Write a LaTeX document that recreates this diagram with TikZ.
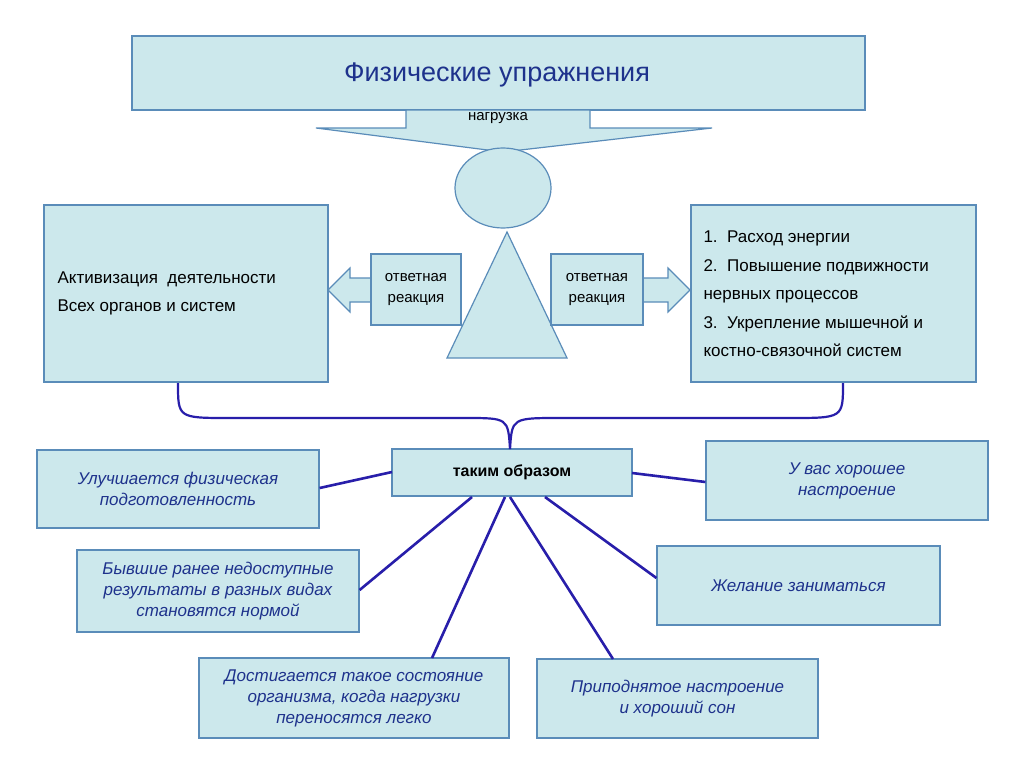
\documentclass[tikz,border=0pt]{standalone}
\usepackage{fontspec}
\setmainfont{Liberation Sans}
\begin{document}
\begin{tikzpicture}[x=1pt,y=-1pt,
  shp/.style={fill=boxfill,draw=boxline,line width=1.2pt},
  ibox/.style={shp,font=\fontsize{17}{21}\selectfont\itshape,text=txtblue,align=center},
  ln/.style={draw=lnblue,line width=2.6pt}]
\definecolor{boxfill}{RGB}{204,232,236}
\definecolor{boxline}{RGB}{90,140,185}
\definecolor{txtblue}{RGB}{30,50,140}
\definecolor{lnblue}{RGB}{40,30,170}
\useasboundingbox (0,0) rectangle (1024,768);
\fill[white] (0,0) rectangle (1024,768);
% top
\draw[shp] (132,36) rectangle (865,110);
\node[text=txtblue,font=\fontsize{27}{30}\selectfont] (title) at (497,75) {Физические упражнения};
\draw[shp] (316,128)--(406,128)--(406,110)--(590,110)--(590,128)--(712,128)--(503,152)--cycle;
\node[font=\fontsize{15}{18}\selectfont] (load) at (498,118) {нагрузка};
\draw[shp] (503,188) ellipse [x radius=48,y radius=40];
\draw[shp] (447,358)--(567,358)--(507,232)--cycle;
% side boxes
\draw[shp] (44,205) rectangle (328,382);
\node[shp,draw=none,fill=none,minimum width=284,minimum height=177] (L) at (186,293.5) {};
\node[anchor=west,align=left,font=\fontsize{17}{28}\selectfont] (Lt) at (54,293) {Активизация\ \ деятельности\\Всех органов и систем};
\draw[shp] (691,205) rectangle (976,382);
\node[draw=none,minimum width=285,minimum height=177] (R) at (833.5,293.5) {};
\node[anchor=west,align=left,font=\fontsize{17}{28.5}\selectfont] (Rt) at (700,294) {1.\ \ Расход энергии\\2.\ \ Повышение подвижности\\нервных процессов\\3.\ \ Укрепление мышечной и\\костно-связочной систем};
% arrows
\draw[shp] (371,278)--(350,278)--(350,268)--(328,290)--(350,312)--(350,302)--(371,302);
\draw[shp] (643,278)--(668,278)--(668,268)--(690,290)--(668,312)--(668,302)--(643,302);
\node[shp,minimum width=90,minimum height=71,align=center,font=\fontsize{15}{21}\selectfont] (ra) at (416,289.5) {ответная\\реакция};
\node[shp,minimum width=92,minimum height=71,align=center,font=\fontsize{15}{21}\selectfont] (rb) at (597,289.5) {ответная\\реакция};
% center
\node[shp,minimum width=240,minimum height=47,font=\fontsize{16}{19}\selectfont\bfseries] (c) at (512,472.5) {таким образом};
\draw[ln,line width=2.2pt] (178,383) .. controls (178,418) .. (230,418) -- (465,418) .. controls (508,418) .. (510,449);
\draw[ln,line width=2.2pt] (843,383) .. controls (843,418) .. (790,418) -- (560,418) .. controls (512,418) .. (510,449);
% outer boxes
\node[ibox,minimum width=282,minimum height=78] (b1) at (178,489) {Улучшается физическая\\подготовленность};
\node[ibox,minimum width=282,minimum height=79] (b2) at (847,480.5) {У вас хорошее\\настроение};
\node[ibox,minimum width=282,minimum height=82] (b3) at (218,591) {Бывшие ранее недоступные\\результаты в разных видах\\становятся нормой};
\node[ibox,minimum width=283,minimum height=79] (b4) at (798.5,585.5) {Желание заниматься};
\node[ibox,minimum width=310,minimum height=80] (b5) at (354,698) {Достигается такое состояние\\организма, когда нагрузки\\переносятся легко};
\node[ibox,minimum width=281,minimum height=79] (b6) at (677.5,698.5) {Приподнятое настроение\\и хороший сон};
\coordinate (c1) at (392,472); \coordinate (c2) at (632,473);
\coordinate (c3) at (472,497); \coordinate (c4) at (545,497);
\coordinate (c5) at (505,497); \coordinate (c6) at (510,497);
\draw[ln] (c1) -- (b1.east |- 0,488);
\draw[ln] (c2) -- (b2.west |- 0,482);
\draw[ln] (c3) -- (b3.east |- 0,590);
\draw[ln] (c4) -- (b4.west |- 0,578);
\draw[ln] (c5) -- (432,658);
\draw[ln] (c6) -- (613,659);
\end{tikzpicture}
\end{document}
